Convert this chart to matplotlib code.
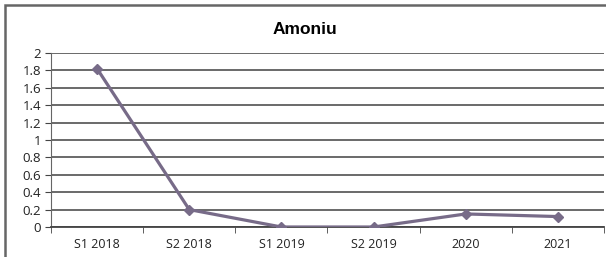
import numpy as np
from matplotlib import pyplot as plt
from matplotlib.patches import Rectangle

categories = ["S1 2018", "S2 2018", "S1 2019", "S2 2019", "2020", "2021"]
values = [1.82, 0.2, 0.0, 0.0, 0.15, 0.12]
yticks = [0, 0.2, 0.4, 0.6, 0.8, 1, 1.2, 1.4, 1.6, 1.8, 2]
ytick_labels = ["0", "0.2", "0.4", "0.6", "0.8", "1", "1.2", "1.4", "1.6", "1.8", "2"]

plt.rcParams['font.family'] = ['Open Sans', 'DejaVu Sans']

fig = plt.figure(figsize=(6.06, 2.57), dpi=100)
W, H = 606, 257

# chart border
fig.patches.append(Rectangle((5 / W, -0.1), 1.2, 1.1 - 5 / H, transform=fig.transFigure,
                             fill=False, edgecolor="#666666", linewidth=1.8))

ax = fig.add_axes([51 / W, 1 - 227 / H, (604 - 51) / W, (227 - 53) / H])
x = np.arange(len(categories))
ax.plot(x, values, color="#776b88", linewidth=2.3, marker="D", markersize=5,
        markerfacecolor="#776b88", markeredgecolor="#776b88", zorder=3)

ax.set_xlim(-0.5, len(categories) - 0.5)
ax.set_ylim(0, 2)
ax.set_yticks(yticks)
ax.set_yticklabels(ytick_labels, fontsize=9.5, color="#222222")
ax.set_xticks(x)
ax.set_xticklabels(categories, fontsize=9, color="#222222")
ax.set_xticks(np.arange(len(categories) + 1) - 0.5, minor=True)
ax.tick_params(axis="x", which="major", length=0, pad=8)
ax.tick_params(axis="x", which="minor", length=4, color="#444444", direction="out")
ax.tick_params(axis="y", length=4, color="#444444", direction="out", pad=3)

ax.grid(axis="y", color="#505050", linewidth=1.2)
ax.set_axisbelow(True)
for s in ["top", "right"]:
    ax.spines[s].set_visible(False)
ax.spines["left"].set_color("#666666")
ax.spines["bottom"].set_color("#444444")
ax.spines["bottom"].set_linewidth(1.3)

fig.text(305 / W, 1 - 30 / H, "Amoniu", ha="center", va="center", fontsize=12.5,
         fontweight="bold", family=["Liberation Sans", "DejaVu Sans"])

fig.savefig("out.png", dpi=100)
